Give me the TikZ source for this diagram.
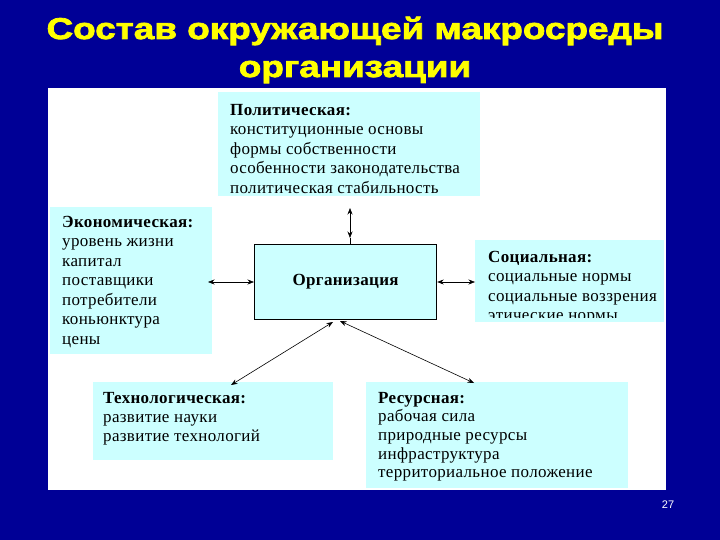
\documentclass[tikz,border=0pt]{standalone}
\usepackage{fontspec}
\setmainfont{Liberation Serif}
\newfontfamily\titlefont[FakeBold=2.5,FakeStretch=1.23]{Liberation Sans Bold}
\newfontfamily\boxfont[LetterSpace=2]{Liberation Serif}
\newfontfamily\numfont{Liberation Sans}
\usetikzlibrary{arrows.meta}
\definecolor{slidebg}{RGB}{0,0,150}
\definecolor{boxcyan}{RGB}{204,255,255}
\definecolor{titleyellow}{RGB}{255,255,0}
\newcommand{\firstline}{\rule{0pt}{13pt}}
\begin{document}
\begin{tikzpicture}[x=1pt,y=-1pt,
  panel/.style={fill=white,draw=none},
  cbox/.style={fill=boxcyan,draw=none,inner sep=0pt,anchor=north west},
  btext/.style={anchor=north west,inner sep=0pt,align=left,font=\boxfont\fontsize{17}{19.5}\selectfont},
  ttl/.style={anchor=base,inner sep=0pt,text=titleyellow,font=\titlefont\fontsize{30}{36}\selectfont},
  conn/.style={line width=0.6pt,{Stealth[length=6.5pt,width=5pt]}-{Stealth[length=6.5pt,width=5pt]}}
]
\fill[slidebg] (0,0) rectangle (720,540);
\useasboundingbox (0,0) rectangle (720,540);
\node[panel,minimum width=618pt,minimum height=402pt,inner sep=0pt,anchor=north west] (pan) at (48,88) {};
\node[ttl] (title1) at (355,39) {Состав окружающей макросреды};
\node[ttl] (title2) at (355,77) {организации};
% boxes
\node[cbox,minimum width=262pt,minimum height=104pt] (pol) at (218,92) {};
\node[btext] (polt) at (230,102) {\firstline\textbf{Политическая:}\\конституционные основы\\формы собственности\\особенности законодательства\\политическая стабильность};
\node[cbox,minimum width=162pt,minimum height=147pt] (eco) at (50,207) {};
\node[btext] (ecot) at (62,214) {\firstline\textbf{Экономическая:}\\уровень жизни\\капитал\\поставщики\\потребители\\коньюнктура\\цены};
\node[cbox,minimum width=189pt,minimum height=82pt] (soc) at (475,240) {};
\begin{scope}
\clip (475,240) rectangle (664,317);
\node[btext] (soct) at (488,249) {\firstline\textbf{Социальная:}\\социальные нормы\\социальные воззрения\\этические нормы};
\end{scope}
\node[cbox,minimum width=240pt,minimum height=78pt] (tech) at (93,382) {};
\node[btext,font=\boxfont\fontsize{17}{19}\selectfont] (techt) at (103,390) {\firstline\textbf{Технологическая:}\\развитие науки\\развитие технологий};
\node[cbox,minimum width=262pt,minimum height=106pt] (res) at (366,382) {};
\node[btext,font=\boxfont\fontsize{17}{18.6}\selectfont] (rest) at (378,390) {\firstline\textbf{Ресурсная:}\\рабочая сила\\природные ресурсы\\инфраструктура\\территориальное положение};
\node[fill=boxcyan,draw=black,line width=1.2pt,minimum width=182pt,minimum height=75pt,inner sep=0pt,anchor=north west,font=\boxfont\bfseries\fontsize{17}{19}\selectfont] (org) at (254,244) {Организация};
% connectors
\coordinate (vt) at (350,208);
\coordinate (vb) at (350,238);
\draw[conn] (vt) -- (vb);
\draw[line width=0.6pt] (vb) -- (org.north -| vb);
\coordinate (lt) at (208,282);
\draw[conn] (lt) -- (org.west |- lt);
\coordinate (rt) at (475,282);
\draw[conn] (org.east |- rt) -- (rt);
\coordinate (dl1) at (333,322);
\coordinate (dl2) at (231,385);
\draw[conn] (dl1) -- (dl2);
\coordinate (dr1) at (340,321);
\coordinate (dr2) at (474,383);
\draw[conn] (dr1) -- (dr2);
\node[text=white,font=\numfont\fontsize{11}{13}\selectfont] (num) at (668,505) {27};
\end{tikzpicture}
\end{document}
